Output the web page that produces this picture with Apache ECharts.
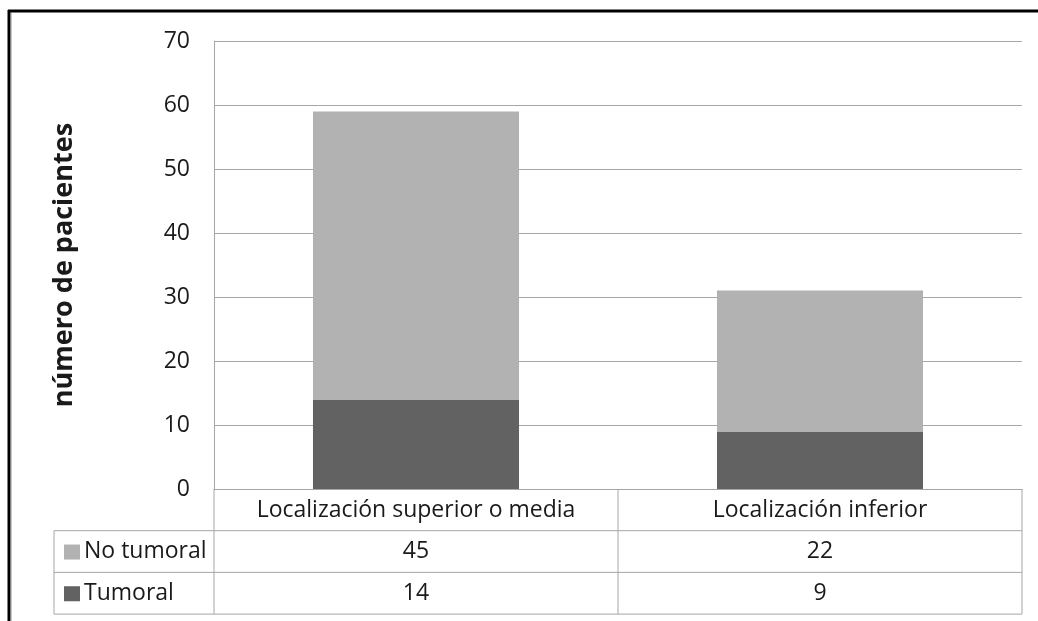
<!DOCTYPE html>
<html>
<head>
<meta charset="utf-8">
<script src="https://cdn.jsdelivr.net/npm/echarts@6/dist/echarts.min.js"></script>
<style>
  html, body { margin: 0; padding: 0; background: #fff; }
  #chart { width: 1038px; height: 621px; }
</style>
</head>
<body>
<div id="chart"></div>
<script>
// Patient counts by location, split by tumoral / non-tumoral
const categories = ['Localización superior o media', 'Localización inferior'];
const seriesNames = ['No tumoral', 'Tumoral'];
const noTumoral = [45, 22];
const tumoral = [14, 9];
const yMin = 0, yMax = 70, yStep = 10;
const colors = { 'No tumoral': '#b2b2b2', 'Tumoral': '#626262' };

const FONT = '"Open Sans", Lato, sans-serif';
const TEXT = '#1a1a1a';
const LINE = '#a6a6a6';
const grid = { left: 214, top: 41, right: 16, bottom: 132 };
const rowH = 41.7;          // height of each data-table row
const legendColLeft = 54;   // left edge of the series-name column
const tableFont = 23;

const chart = echarts.init(document.getElementById('chart'), null, { renderer: 'canvas' });

const valuesByName = { 'No tumoral': noTumoral, 'Tumoral': tumoral };

chart.setOption({
  animation: false,
  backgroundColor: '#fff',
  grid: { left: grid.left, top: grid.top, right: grid.right, bottom: grid.bottom },
  xAxis: {
    type: 'category',
    data: categories,
    axisLine: { show: true, lineStyle: { color: LINE, width: 1 } },
    axisTick: { show: false },
    axisLabel: {
      interval: 0, hideOverlap: false,
      color: TEXT, fontFamily: FONT, fontSize: tableFont, margin: 21, verticalAlign: 'middle'
    }
  },
  yAxis: {
    type: 'value',
    min: yMin, max: yMax, interval: yStep,
    name: 'número de pacientes',
    nameLocation: 'middle',
    nameGap: 136,
    nameRotate: 90,
    nameTextStyle: { color: TEXT, fontFamily: FONT, fontSize: 27, fontWeight: 'bold' },
    axisLine: { show: true, lineStyle: { color: LINE, width: 1 } },
    axisTick: { show: false },
    axisLabel: { color: TEXT, fontFamily: FONT, fontSize: 23, margin: 24 },
    splitLine: { lineStyle: { color: LINE, width: 1 } }
  },
  series: [
    {
      name: 'Tumoral', type: 'bar', stack: 'total', data: tumoral,
      barWidth: '51%', itemStyle: { color: colors['Tumoral'] }
    },
    {
      name: 'No tumoral', type: 'bar', stack: 'total', data: noTumoral,
      barWidth: '51%', itemStyle: { color: colors['No tumoral'] }
    }
  ]
});

// Data table below the plot, positioned from the axis scale
function drawTable() {
  const W = chart.getWidth(), H = chart.getHeight();
  const plotLeft = grid.left, plotRight = W - grid.right;
  const y0 = H - grid.bottom;
  const rows = [y0, y0 + rowH, y0 + 2 * rowH, y0 + 3 * rowH];
  const centers = categories.map(c => chart.convertToPixel({ xAxisIndex: 0 }, c));
  const dividers = [];
  for (let i = 0; i < centers.length - 1; i++) dividers.push((centers[i] + centers[i + 1]) / 2);

  const els = [];
  const line = (x1, y1, x2, y2) => els.push({
    type: 'line', shape: { x1, y1, x2, y2 },
    style: { stroke: LINE, lineWidth: 1 }, silent: true
  });
  // horizontal rules
  line(legendColLeft, rows[1], plotRight, rows[1]);
  line(legendColLeft, rows[2], plotRight, rows[2]);
  line(legendColLeft, rows[3], plotRight, rows[3]);
  // vertical rules
  line(plotLeft, rows[0], plotLeft, rows[3]);
  line(plotRight, rows[0], plotRight, rows[3]);
  dividers.forEach(x => line(x, rows[0], x, rows[3]));
  line(legendColLeft, rows[1], legendColLeft, rows[3]);

  seriesNames.forEach((name, r) => {
    const cy = (rows[r + 1] + rows[r + 2]) / 2;
    els.push({
      type: 'rect', shape: { x: legendColLeft + 10, y: cy - 7, width: 16, height: 15 },
      style: { fill: colors[name] }, silent: true
    });
    els.push({
      type: 'text', x: legendColLeft + 30, y: cy,
      style: { text: name, fill: TEXT, font: tableFont + 'px ' + FONT, textVerticalAlign: 'middle', textAlign: 'left' },
      silent: true
    });
    valuesByName[name].forEach((v, i) => {
      els.push({
        type: 'text', x: centers[i], y: cy,
        style: { text: String(v), fill: TEXT, font: tableFont + 'px ' + FONT, textVerticalAlign: 'middle', textAlign: 'center' },
        silent: true
      });
    });
  });

  // outer frame (top and left)
  els.push({ type: 'line', shape: { x1: 8, y1: 11, x2: W, y2: 11 }, style: { stroke: '#000', lineWidth: 3 }, silent: true });
  els.push({ type: 'line', shape: { x1: 9, y1: 10, x2: 9, y2: H }, style: { stroke: '#000', lineWidth: 3 }, silent: true });
  els.push({ type: 'line', shape: { x1: 11.5, y1: 13, x2: 11.5, y2: H }, style: { stroke: '#c8c8c8', lineWidth: 1 }, silent: true });

  chart.setOption({ graphic: { elements: els } });
}
drawTable();
</script>
</body>
</html>
